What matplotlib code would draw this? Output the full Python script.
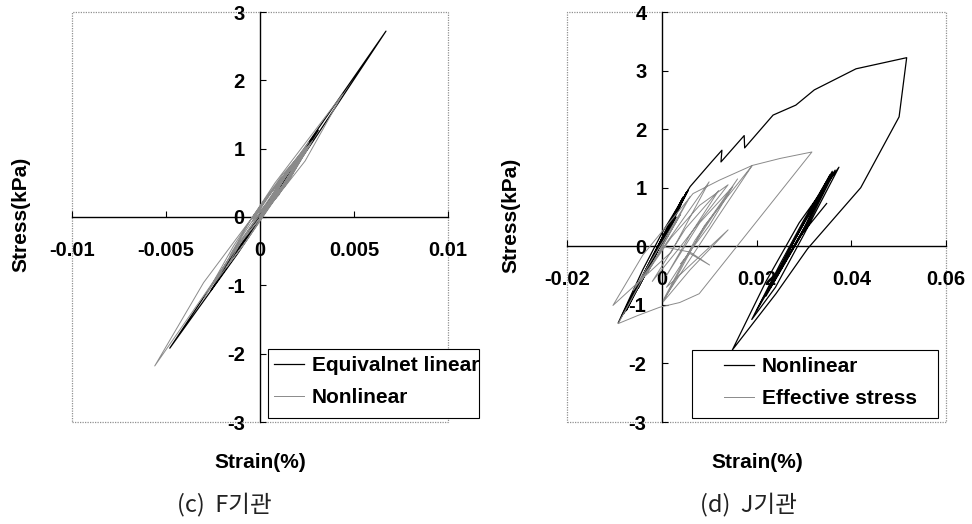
import matplotlib
matplotlib.use("Agg")
import matplotlib.pyplot as plt
from matplotlib.patches import Rectangle

plt.rcParams['font.family'] = ['Liberation Sans', 'DejaVu Sans']
plt.rcParams['axes.unicode_minus'] = False

# (c) F - equivalent linear (black) and nonlinear (gray)
c_eql_strain = [0, 0.0010, 0.0021, 0.0011, -0.0009, 0.0011, 0.0031, 0.0011, -0.0026, -0.0006,
                0.0020, 0.0067, 0.0028, -0.0012, -0.0048, -0.0016, 0.0026, 0.0006, -0.0016,
                0.0000, 0.0016, 0.0002, -0.0008, 0.0002, 0.0010, 0.0]
c_eql_stress = [0, 0.44, 0.86, 0.42, -0.40, 0.48, 1.27, 0.40, -1.07, -0.20,
                0.86, 2.72, 1.10, -0.54, -1.92, -0.60, 1.04, 0.20, -0.64,
                0.04, 0.64, 0.04, -0.32, 0.12, 0.40, 0]
c_nl_strain = [0, 0.0012, 0.0024, 0.0012, -0.0004, 0.0008, 0.0026, 0.0012, -0.0012, -0.0030,
               -0.0014, 0.0008, 0.0044, 0.0024, -0.0012, -0.0056, -0.0030, 0.0002, 0.0028,
               0.0014, -0.0002, -0.0016, -0.0004, 0.0012, 0.0024, 0.0012, -0.0004, 0.0004,
               0.0020, 0.0010, 0.0002, 0.0012, 0.0022, 0.0014, 0.0004, 0.0016, 0.0018, 0.0008,
               -0.0008, -0.0024, -0.0010, 0.0010, 0.0025, 0.0010, -0.0006, -0.0018, -0.0006,
               0.0012, 0.0027, 0.0016, 0.0004, 0.0014, 0.0021, 0.0009, 0.0]
c_nl_stress = [0, 0.58, 0.98, 0.42, -0.02, 0.44, 1.10, 0.46, -0.40, -1.20,
               -0.42, 0.50, 1.80, 0.82, -0.44, -2.18, -0.96, 0.22, 1.12,
               0.48, -0.08, -0.56, 0.00, 0.62, 1.00, 0.42, -0.06, 0.30,
               0.82, 0.32, 0.08, 0.54, 0.90, 0.48, 0.18, 0.68, 0.72, 0.30,
               -0.38, -0.96, -0.30, 0.52, 1.02, 0.34, -0.30, -0.74, -0.18,
               0.56, 1.08, 0.56, 0.12, 0.62, 0.86, 0.30, 0]

# (d) J - nonlinear (black) and effective stress (gray)
d_nl_strain = [0, 0.0030, -0.0040, 0.0045, -0.0070, 0.0056, -0.0060, 0.0030, -0.0080, 0.0050,
               -0.0050, 0.0040, -0.0075, 0.0052, -0.0030, 0.0020, -0.0085, 0.0045, -0.0092,
               -0.0040, 0.0000, 0.0060, 0.0105, 0.0127, 0.0125, 0.0174, 0.0175, 0.0235,
               0.0283, 0.0322, 0.0410, 0.0517, 0.0501, 0.0420, 0.0308, 0.0241, 0.0149,
               0.0220, 0.0290, 0.0374, 0.0300, 0.0240, 0.0190, 0.0250, 0.0300, 0.0360,
               0.0295, 0.0220, 0.0270, 0.0320, 0.0366, 0.0310, 0.0240, 0.0200, 0.0260,
               0.0355, 0.0300, 0.0230, 0.0280, 0.0362, 0.0305, 0.0240, 0.0290, 0.0348]
d_nl_stress = [0, 0.55, -0.55, 0.80, -1.00, 0.96, -0.85, 0.50, -1.15, 0.88,
               -0.72, 0.70, -1.10, 0.92, -0.38, 0.40, -1.20, 0.84, -1.31,
               -0.40, 0.22, 1.02, 1.44, 1.64, 1.44, 1.89, 1.68, 2.24,
               2.41, 2.67, 3.03, 3.22, 2.21, 1.00, -0.04, -0.81, -1.77,
               -0.60, 0.40, 1.35, 0.20, -0.70, -1.25, -0.30, 0.45, 1.28,
               0.20, -0.85, -0.05, 0.70, 1.30, 0.40, -0.55, -1.10, -0.20,
               1.22, 0.30, -0.70, 0.10, 1.26, 0.38, -0.55, 0.15, 0.73]
d_es_strain = [0, 0.0040, -0.0030, 0.0060, -0.0060, 0.0100, 0.0020, -0.0103, -0.0040, 0.0066,
               0.0122, 0.0191, 0.0110, 0.0003, 0.0070, 0.0160, 0.0090, 0.0010, 0.0140,
               0.0060, 0.0003, 0.0090, 0.0191, 0.0250, 0.0317, 0.0200, 0.0079, 0.0038,
               -0.0004, -0.0050, -0.0092, -0.0040, 0.0020, 0.0080, 0.0140, 0.0040, -0.0020,
               0.0050, 0.0120, 0.0060, 0.0010, 0.0080, 0.0150, 0.0100, 0.0040, 0.0059,
               0.0101, 0.0060, 0.0000]
d_es_stress = [0, 0.55, -0.45, 0.85, -0.75, 1.10, -0.10, -1.01, -0.15, 0.90,
               1.13, 1.38, 0.40, -0.92, 0.10, 1.15, 0.30, -0.70, 0.28,
               -0.40, -0.95, 0.35, 1.38, 1.50, 1.61, 0.42, -0.81, -0.96,
               -1.04, -1.18, -1.32, -0.55, 0.15, 0.70, 1.05, 0.00, -0.60,
               0.30, 0.95, 0.20, -0.50, 0.40, 1.02, 0.35, -0.30, -0.12,
               -0.32, -0.10, 0.00]

c_xticks = [-0.01, -0.005, 0, 0.005, 0.01]
c_xlabels = ['-0.01', '-0.005', '0', '0.005', '0.01']
c_yticks = [-3, -2, -1, 0, 1, 2, 3]
d_xticks = [-0.02, 0, 0.02, 0.04, 0.06]
d_xlabels = ['-0.02', '0', '0.02', '0.04', '0.06']
d_yticks = [-3, -2, -1, 0, 1, 2, 3, 4]

GRAY = '#8a8a8a'
W, H = 972, 524


def setup_axes(rect, xticks, xlabels, yticks):
    ax = fig.add_axes(rect)
    ax.set_xlim(xticks[0], xticks[-1])
    ax.set_ylim(yticks[0], yticks[-1])
    ax.set_xticks(xticks)
    ax.set_xticklabels(xlabels)
    ax.set_yticks(yticks)
    ax.set_yticklabels([str(v) for v in yticks])
    for s in ['left', 'bottom']:
        ax.spines[s].set_position(('data', 0))
        ax.spines[s].set_linewidth(1.0)
        ax.spines[s].set_zorder(1)
    for s in ['top', 'right']:
        ax.spines[s].set_visible(False)
    # dotted plot-area border
    ax.add_patch(Rectangle((0, 0), 1, 1, transform=ax.transAxes, fill=False,
                           edgecolor='#909090', lw=0.9, ls=(0, (1, 1)), clip_on=False))
    ax.tick_params(direction='in', length=4, width=0.8, labelsize=14.5)
    ax.tick_params(axis='x', pad=17)
    ax.tick_params(axis='y', pad=11)
    for t in ax.get_xticklabels() + ax.get_yticklabels():
        t.set_fontweight('bold')
    return ax


def legend_box(ax, handles, labels, x0, y0, x1, y1, text_x):
    ax.add_patch(Rectangle((x0 / W, 1 - y1 / H), (x1 - x0) / W, (y1 - y0) / H,
                           transform=fig.transFigure, facecolor='white', clip_on=False,
                           edgecolor='black', lw=0.8, zorder=5))
    leg = ax.legend(handles, labels, loc='upper left', frameon=False,
                    bbox_to_anchor=(text_x / W, 1 - (y0 + 3) / H),
                    bbox_transform=fig.transFigure, borderaxespad=0, borderpad=0.2,
                    handlelength=1.45, handletextpad=0.35, labelspacing=0.62,
                    prop={'weight': 'bold', 'size': 15})
    leg.set_zorder(6)


fig = plt.figure(figsize=(W / 100, H / 100), dpi=100)

# (c) panel
ax1 = setup_axes([72 / W, 1 - 422 / H, 376 / W, 410 / H], c_xticks, c_xlabels, c_yticks)
l1, = ax1.plot(c_eql_strain, c_eql_stress, color='black', lw=0.9)
l2, = ax1.plot(c_nl_strain, c_nl_stress, color=GRAY, lw=0.7)
legend_box(ax1, [l1, l2], ['Equivalnet linear', 'Nonlinear'], 268, 349, 479, 418, 270)

# (d) panel
ax2 = setup_axes([567 / W, 1 - 422 / H, 379 / W, 410 / H], d_xticks, d_xlabels, d_yticks)
l3, = ax2.plot(d_nl_strain, d_nl_stress, color='black', lw=0.9)
l4, = ax2.plot(d_es_strain, d_es_stress, color=GRAY, lw=0.7)
legend_box(ax2, [l3, l4], ['Nonlinear', 'Effective stress'], 692, 350, 938, 418, 720)

# axis titles and captions
fig.text(21 / W, 1 - 214 / H, 'Stress(kPa)', rotation=90, ha='center', va='center',
         fontsize=15, fontweight='bold')
fig.text(511 / W, 1 - 215 / H, 'Stress(kPa)', rotation=90, ha='center', va='center',
         fontsize=15, fontweight='bold')
fig.text(260 / W, 1 - 463 / H, 'Strain(%)', ha='center', va='center',
         fontsize=15, fontweight='bold')
fig.text(757 / W, 1 - 463 / H, 'Strain(%)', ha='center', va='center',
         fontsize=15, fontweight='bold')
fig.text(224 / W, 1 - 504 / H, '(c)  F기관', ha='center', va='center', fontsize=17,
         family=['Noto Sans CJK KR', 'DejaVu Sans'], color='#222222')
fig.text(748 / W, 1 - 504 / H, '(d)  J기관', ha='center', va='center', fontsize=17,
         family=['Noto Sans CJK KR', 'DejaVu Sans'], color='#222222')

fig.savefig('out.png', dpi=100)
